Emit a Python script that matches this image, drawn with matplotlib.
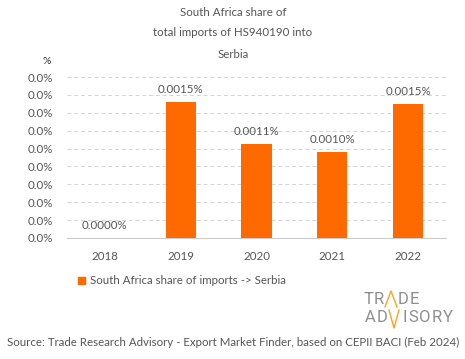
import matplotlib
matplotlib.use("Agg")
import matplotlib.pyplot as plt
from matplotlib.ticker import FixedLocator, FuncFormatter
import matplotlib.patches as mpatches
import matplotlib.lines as mlines

years = ["2018", "2019", "2020", "2021", "2022"]
shares = [0.0, 0.00152, 0.00105, 0.00096, 0.00150]
labels = ["0.0000%", "0.0015%", "0.0011%", "0.0010%", "0.0015%"]
ticks = [i * 0.0002 for i in range(10)]

plt.rcParams['font.family'] = ['Lato', 'DejaVu Sans']
grey = "#555555"
orange = "#FF6A00"
FS = 8.3

fig = plt.figure(figsize=(4.65, 3.59), dpi=100)
ax = fig.add_axes([67/465, 1 - 238/359, (446-67)/465, (238-77)/359])

x = range(len(years))
ax.bar(x, shares, width=0.4, color=orange, zorder=3)
for xi, v, lab in zip(x, shares, labels):
    ax.annotate(lab, (xi, v), xytext=(0, 5), textcoords="offset points",
                ha="center", va="bottom", fontsize=FS, color=grey)

ax.set_xlim(-0.5, len(years) - 0.5)
ax.set_ylim(0, 0.0018)
ax.yaxis.set_major_locator(FixedLocator(ticks))
ax.yaxis.set_major_formatter(FuncFormatter(lambda v, p: f"{v:.1f}%"))
ax.set_xticks(list(x))
ax.set_xticklabels(years)
ax.tick_params(axis='both', length=0, labelsize=FS, colors=grey)
ax.tick_params(axis='y', pad=10)
ax.tick_params(axis='x', pad=9)
ax.grid(axis='y', color="#d4d4d4", linestyle=(0, (4, 3)), linewidth=0.7, zorder=0)
for s in ["top", "right", "left"]:
    ax.spines[s].set_visible(False)
ax.spines["bottom"].set_color("#cccccc")
ax.spines["bottom"].set_linewidth(0.8)

# titles
fig.text(233/465, 1 - 13/359, "South Africa share of", ha="center", va="center", fontsize=FS, color=grey)
fig.text(233/465, 1 - 33/359, "total imports of HS940190 into", ha="center", va="center", fontsize=FS, color=grey)
fig.text(233/465, 1 - 55/359, "Serbia", ha="center", va="center", fontsize=FS, color=grey)
fig.text(47/465, 1 - 61/359, "%", ha="center", va="center", fontsize=7.5, color="#333333")

# legend
fig.patches.append(mpatches.Rectangle((78/465, 1 - 284/359), 7/465, 7/359,
                                      transform=fig.transFigure, color=orange))
fig.text(90/465, 1 - 280/359, "South Africa share of imports -> Serbia", ha="left", va="center",
         fontsize=FS, color=grey)

# logo
lg = "#8f8f8f"
lfam = ['Roboto', 'DejaVu Sans']
for ch, cx in zip("TRDE", [368, 379, 403, 414]):
    fig.text(cx/465, 1 - 299/359, ch, ha="center", va="center", fontsize=12, color=lg, family=lfam)
for ch, cx in zip("ADISORY", [370, 382, 405, 413, 425, 437, 448]):
    fig.text(cx/465, 1 - 317/359, ch, ha="center", va="center", fontsize=12, color=lg, family=lfam)
ol = "#F5A623"
fig.lines.append(mlines.Line2D([385/465, 391/465, 397/465],
                               [1 - 307/359, 1 - 291/359, 1 - 307/359],
                               transform=fig.transFigure, color=ol, linewidth=1.0))
fig.lines.append(mlines.Line2D([389/465, 394/465, 399/465],
                               [1 - 310/359, 1 - 328/359, 1 - 310/359],
                               transform=fig.transFigure, color=ol, linewidth=1.0))

fig.text(233/465, 1 - 342/359,
         "Source: Trade Research Advisory - Export Market Finder, based on CEPII BACI (Feb 2024)",
         ha="center", va="center", fontsize=FS, color=grey)

fig.savefig("out.png", dpi=100)
